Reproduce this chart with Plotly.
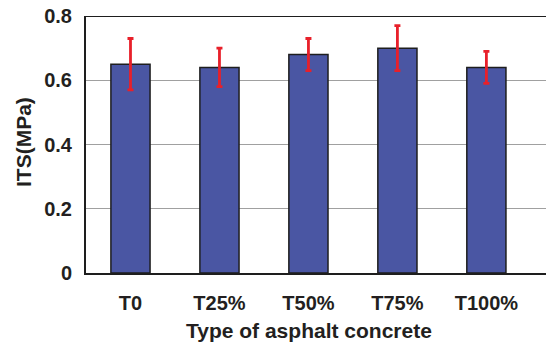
import plotly.graph_objects as go

categories = ["T0", "T25%", "T50%", "T75%", "T100%"]
its_values = [0.65, 0.64, 0.68, 0.70, 0.64]
err_plus = [0.08, 0.06, 0.05, 0.07, 0.05]
err_minus = [0.08, 0.06, 0.05, 0.07, 0.05]
y_ticks = [0, 0.2, 0.4, 0.6, 0.8]
y_tick_text = ["0", "0.2", "0.4", "0.6", "0.8"]

FONT = "Liberation Sans, Arial, Helvetica, sans-serif"
TXT = "#231F20"

fig = go.Figure()
fig.add_trace(go.Bar(
    x=categories, y=its_values, width=0.44,
    marker=dict(color="#4A56A3", line=dict(color="#1E1E1E", width=1.5)),
    error_y=dict(type="data", symmetric=False, array=err_plus, arrayminus=err_minus,
                 color="#E8202A", thickness=2.8, width=3),
))

fig.update_layout(
    width=546, height=343,
    margin=dict(l=86, r=0, t=16, b=70, autoexpand=False),
    paper_bgcolor="white", plot_bgcolor="white",
    showlegend=False,
    font=dict(family=FONT, color=TXT),
    shapes=[dict(type="line", xref="paper", yref="y", x0=0, x1=1, y0=0.8, y1=0.8,
                 line=dict(color="#1E1E1E", width=2))],
    annotations=[
        dict(text="<b>Type of asphalt concrete</b>", xref="paper", yref="paper",
             x=(309 - 86) / 460, y=(273 - 330) / 257, xanchor="center", yanchor="middle",
             showarrow=False, font=dict(family=FONT, size=21, color=TXT)),
        dict(text="<b>ITS(MPa)</b>", xref="paper", yref="paper",
             x=(23 - 86) / 460, y=(273 - 142) / 257, xanchor="center", yanchor="middle",
             textangle=-90, showarrow=False, font=dict(family=FONT, size=21, color=TXT)),
    ],
)
fig.update_xaxes(
    range=[-0.5, 4.67], showline=True, linecolor="#1E1E1E", linewidth=2,
    showgrid=False, ticks="", ticklabelstandoff=11, automargin=False,
    tickfont=dict(family=FONT, size=20, color=TXT, weight="bold"),
)
fig.update_yaxes(
    range=[0, 0.8], tickvals=y_ticks, ticktext=y_tick_text,
    showline=True, linecolor="#1E1E1E", linewidth=2,
    showgrid=True, gridcolor="#A0A0A0", gridwidth=1, zeroline=False,
    ticks="", ticklabelstandoff=8, automargin=False,
    tickfont=dict(family=FONT, size=20, color=TXT, weight="bold"),
)

fig.write_html("out.html", config={"displayModeBar": False, "staticPlot": True},
               post_script="document.body.style.margin='0';document.body.style.overflow='hidden';")
